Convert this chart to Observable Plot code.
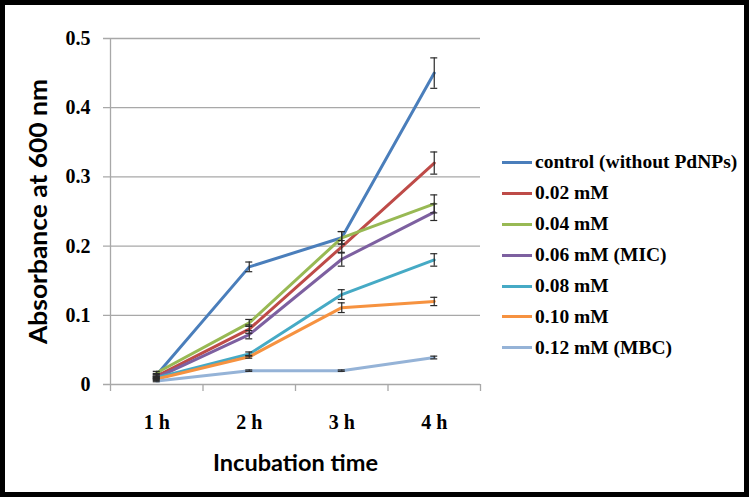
<!DOCTYPE html>
<html>
<head>
<meta charset="utf-8">
<script src="https://cdn.jsdelivr.net/npm/d3@7"></script>
<script src="https://cdn.jsdelivr.net/npm/@observablehq/plot@0.6"></script>
<style>
  html, body { margin: 0; padding: 0; background: #fff; }
  #wrap { position: relative; width: 749px; height: 497px; overflow: hidden; background: #fff; }
  #wrap svg { position: absolute; left: 0; top: 0; }
  #frame { position: absolute; left: 0; top: 0; width: 749px; height: 497px; box-sizing: border-box; border: 5px solid #000; pointer-events: none; }
  #legend { position: absolute; left: 502px; top: 147px; font-family: "Liberation Serif", "Times New Roman", serif; font-weight: bold; font-size: 19.5px; color: #000; }
  .row { height: 30.9px; display: flex; align-items: center; white-space: nowrap; }
  .sw { width: 30px; height: 3px; margin-right: 3px; }
</style>
</head>
<body>
<div id="wrap"><div id="legend"></div><div id="frame"></div></div>
<script>
const hours = [1, 2, 3, 4];
const timeLabels = ["1 h", "2 h", "3 h", "4 h"];
const xBoundaries = [0.5, 1.5, 2.5, 3.5, 4.5];
const yTicks = [0, 0.1, 0.2, 0.3, 0.4, 0.5];
const seriesNames = ["control (without PdNPs)", "0.02 mM", "0.04 mM", "0.06 mM (MIC)", "0.08 mM", "0.10 mM", "0.12 mM (MBC)"];
const seriesColors = ["#4A7EBB", "#BE4B48", "#98B954", "#7D60A0", "#46AAC5", "#F69240", "#95B3D7"];

const control = [0.014, 0.170, 0.212, 0.450];
const mM002 = [0.012, 0.080, 0.199, 0.320];
const mM004 = [0.017, 0.089, 0.212, 0.261];
const mM006 = [0.010, 0.072, 0.181, 0.249];
const mM008 = [0.010, 0.044, 0.130, 0.180];
const mM010 = [0.008, 0.040, 0.111, 0.120];
const mM012 = [0.005, 0.020, 0.020, 0.039];

const errControl = [0.002, 0.007, 0.009, 0.022];
const err002 = [0.002, 0.006, 0.009, 0.016];
const err004 = [0.002, 0.005, 0.009, 0.013];
const err006 = [0.002, 0.006, 0.010, 0.012];
const err008 = [0.001, 0.003, 0.007, 0.009];
const err010 = [0.001, 0.002, 0.007, 0.006];
const err012 = [0.001, 0.001, 0.001, 0.002];

const seriesValues = [control, mM002, mM004, mM006, mM008, mM010, mM012];
const seriesErrors = [errControl, err002, err004, err006, err008, err010, err012];

const rows = [];
seriesNames.forEach((name, s) => {
  hours.forEach((t, i) => rows.push({series: name, t, v: seriesValues[s][i], e: seriesErrors[s][i]}));
});

const gridColor = "#a8a8a8";
const serif = "Liberation Serif, Times New Roman, serif";
const sans = "Lato, Open Sans, sans-serif";

const chart = Plot.plot({
  width: 749,
  height: 497,
  marginLeft: 110,
  marginRight: 269,
  marginTop: 38,
  marginBottom: 113,
  style: {fontFamily: serif, fontSize: "20px", fontWeight: "bold", background: "transparent", overflow: "visible"},
  x: {type: "linear", domain: [0.5, 4.5]},
  y: {domain: [0, 0.5]},
  color: {domain: seriesNames, range: seriesColors},
  marks: [
    Plot.ruleY(yTicks, {stroke: gridColor, strokeWidth: 1.3, insetLeft: -7}),
    Plot.ruleX([0.5], {y1: 0, y2: 0.5, stroke: gridColor, strokeWidth: 1.3}),
    Plot.axisX(xBoundaries, {tickSize: 7, tickFormat: () => "", stroke: gridColor, strokeWidth: 1.3, label: null}),
    Plot.axisX(hours, {tickSize: 0, tickPadding: 30, tickFormat: (d) => timeLabels[d - 1], fill: "#000", label: null}),
    Plot.axisY(yTicks, {tickSize: 0, tickPadding: 20, tickFormat: (d) => d === 0 ? "0" : d.toFixed(1), fill: "#000", label: null}),
    Plot.line(rows, {x: "t", y: "v", z: "series", stroke: "series", strokeWidth: 3}),
    Plot.ruleX(rows, {x: "t", y1: (d) => d.v - d.e, y2: (d) => d.v + d.e, stroke: "#2a2a2a", strokeWidth: 1.2}),
    Plot.ruleY(rows, {y: (d) => d.v + d.e, x1: "t", x2: "t", insetLeft: -3.5, insetRight: -3.5, stroke: "#2a2a2a", strokeWidth: 1.2}),
    Plot.ruleY(rows, {y: (d) => d.v - d.e, x1: "t", x2: "t", insetLeft: -3.5, insetRight: -3.5, stroke: "#2a2a2a", strokeWidth: 1.2}),
    Plot.text(["Absorbance at 600 nm"], {frameAnchor: "left", textAnchor: "middle", dx: -71, rotate: -90, fontFamily: sans, fontSize: 24, fontWeight: "bold", fill: "#000", className: "ytitle"}),
    Plot.text(["Incubation time"], {frameAnchor: "bottom", textAnchor: "middle", dy: 86, fontFamily: sans, fontSize: 23, fontWeight: "bold", fill: "#000", className: "xtitle"})
  ]
});

const wrap = document.getElementById("wrap");
wrap.insertBefore(chart, wrap.firstChild);

d3.select(chart).selectAll(".ytitle text").attr("textLength", 265).attr("lengthAdjust", "spacingAndGlyphs");
d3.select(chart).selectAll(".xtitle text").attr("textLength", 165).attr("lengthAdjust", "spacingAndGlyphs");

const legend = d3.select("#legend");
seriesNames.forEach((name, i) => {
  const r = legend.append("div").attr("class", "row");
  r.append("div").attr("class", "sw").style("background", seriesColors[i]);
  r.append("span").text(name);
});
</script>
</body>
</html>
